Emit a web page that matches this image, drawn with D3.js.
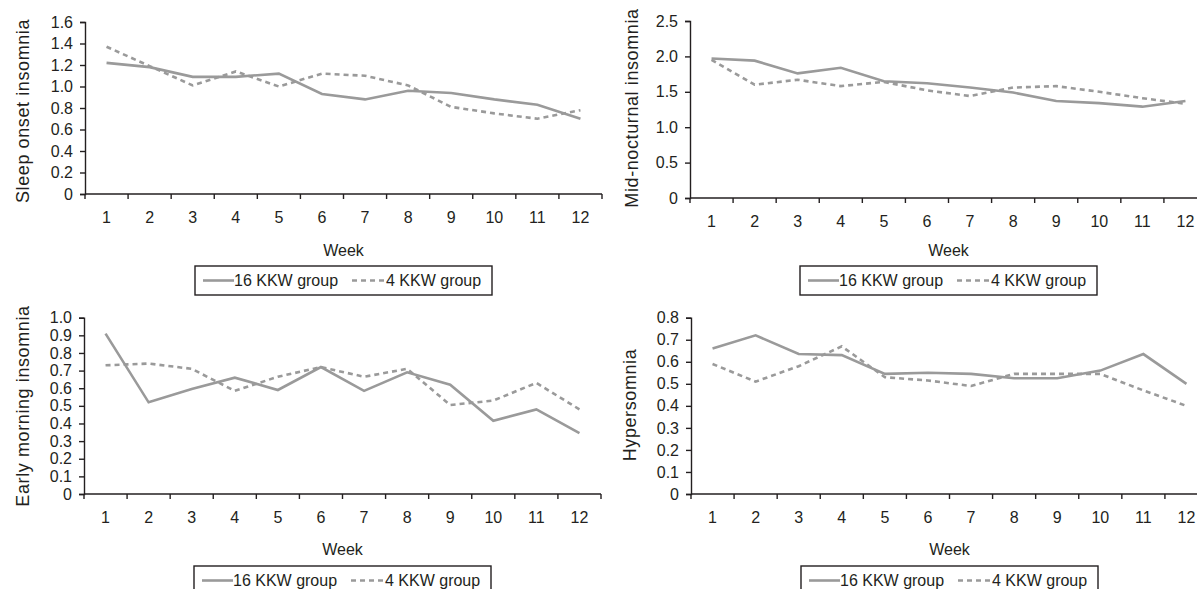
<!DOCTYPE html>
<html lang="en">
<meta charset="utf-8">
<style>
  body { margin: 0; background: #fff; }
  text { font-family: "Liberation Sans", Arial, sans-serif; fill: #231f20; }
</style>
<body>
<div id="my_dataviz"></div>

<script src="https://d3js.org/d3.v7.min.js"></script>
<script>

// weeks on the x axis
var weeks = [1, 2, 3, 4, 5, 6, 7, 8, 9, 10, 11, 12];
var seriesNames = ["16 KKW group", "4 KKW group"];

// Sleep onset insomnia
var sleepOnset16 = [1.22, 1.18, 1.09, 1.09, 1.12, 0.93, 0.88, 0.96, 0.94, 0.88, 0.83, 0.70];
var sleepOnset4  = [1.37, 1.19, 1.01, 1.14, 1.00, 1.12, 1.10, 1.01, 0.81, 0.75, 0.70, 0.78];

// Mid-nocturnal insomnia
var midNoct16 = [1.97, 1.94, 1.76, 1.84, 1.65, 1.62, 1.56, 1.49, 1.37, 1.34, 1.29, 1.37];
var midNoct4  = [1.95, 1.60, 1.67, 1.58, 1.64, 1.52, 1.44, 1.56, 1.58, 1.50, 1.41, 1.33];

// Early morning insomnia
var earlyMorning16 = [0.91, 0.52, 0.595, 0.66, 0.59, 0.72, 0.585, 0.69, 0.62, 0.415, 0.48, 0.345];
var earlyMorning4  = [0.73, 0.74, 0.71, 0.585, 0.665, 0.72, 0.665, 0.71, 0.505, 0.53, 0.63, 0.48];

// Hypersomnia
var hyper16 = [0.66, 0.72, 0.635, 0.63, 0.545, 0.55, 0.545, 0.525, 0.525, 0.56, 0.635, 0.50];
var hyper4  = [0.59, 0.51, 0.58, 0.67, 0.53, 0.515, 0.49, 0.545, 0.545, 0.545, 0.47, 0.40];

// y tick values per panel
var sleepOnsetTicks   = [0, 0.2, 0.4, 0.6, 0.8, 1.0, 1.2, 1.4, 1.6];
var midNoctTicks      = [0, 0.5, 1.0, 1.5, 2.0, 2.5];
var earlyMorningTicks = [0, 0.1, 0.2, 0.3, 0.4, 0.5, 0.6, 0.7, 0.8, 0.9, 1.0];
var hyperTicks        = [0, 0.1, 0.2, 0.3, 0.4, 0.5, 0.6, 0.7, 0.8];

var W = 1197, H = 589;
var lineColor = "#9a9a9a";
var axisColor = "#231f20";

var svg = d3.select("#my_dataviz")
  .append("svg")
  .attr("width", W)
  .attr("height", H);

var panels = [
  {label: "Sleep onset insomnia", s16: sleepOnset16, s4: sleepOnset4, ticks: sleepOnsetTicks,
   left: 85, top: 22, bottom: 194, ylab: 23, ylabY: 111, weekY: 250, legY: 266},
  {label: "Mid-nocturnal insomnia", s16: midNoct16, s4: midNoct4, ticks: midNoctTicks,
   left: 690, top: 21, bottom: 198, ylab: 632, ylabY: 108, weekY: 250, legY: 266},
  {label: "Early morning insomnia", s16: earlyMorning16, s4: earlyMorning4, ticks: earlyMorningTicks,
   left: 84, top: 317.7, bottom: 494, ylab: 23, ylabY: 406, weekY: 549, legY: 566},
  {label: "Hypersomnia", s16: hyper16, s4: hyper4, ticks: hyperTicks,
   left: 691, top: 317.7, bottom: 494, ylab: 630, ylabY: 405, weekY: 549, legY: 566}
];

var plotWidth = 517;

panels.forEach(function(p) {
  var g = svg.append("g");

  var x = d3.scaleBand()
    .domain(weeks)
    .range([p.left, p.left + plotWidth])
    .padding(0);

  var y = d3.scaleLinear()
    .domain([0, d3.max(p.ticks)])
    .range([p.bottom, p.top]);

  // y axis
  var yAxis = g.append("g")
    .attr("transform", "translate(" + p.left + ",0)")
    .call(d3.axisLeft(y)
      .tickValues(p.ticks)
      .tickSize(5)
      .tickPadding(7)
      .tickFormat(function(d) { return d === 0 ? "0" : d3.format(".1f")(d); }));
  yAxis.select(".domain").attr("stroke", axisColor).attr("stroke-width", 1.4);
  yAxis.selectAll(".tick line").attr("stroke", axisColor).attr("stroke-width", 1.4);
  yAxis.selectAll(".tick text")
    .style("font-size", "16px")
    .attr("fill", "#231f20");

  // x axis: labels centred in bands, ticks on band boundaries
  var xAxis = g.append("g")
    .attr("transform", "translate(0," + p.bottom + ")")
    .call(d3.axisBottom(x).tickSize(0).tickPadding(18));
  xAxis.select(".domain").remove();
  xAxis.selectAll(".tick text")
    .style("font-size", "16px")
    .attr("fill", "#231f20");

  g.append("line")
    .attr("x1", p.left).attr("x2", p.left + plotWidth)
    .attr("y1", p.bottom).attr("y2", p.bottom)
    .attr("stroke", axisColor).attr("stroke-width", 1.4);

  g.selectAll(".xtick")
    .data(weeks.concat([13]))
    .enter()
    .append("line")
    .attr("x1", function(d) { return d === 13 ? p.left + plotWidth : x(d); })
    .attr("x2", function(d) { return d === 13 ? p.left + plotWidth : x(d); })
    .attr("y1", p.bottom)
    .attr("y2", p.bottom + 5)
    .attr("stroke", axisColor).attr("stroke-width", 1.4);

  // axis titles
  g.append("text")
    .attr("transform", "translate(" + p.ylab + "," + p.ylabY + ") rotate(-90)")
    .attr("text-anchor", "middle")
    .attr("dy", "0.35em")
    .style("font-size", "18px")
    .style("letter-spacing", "0.6px")
    .text(p.label);

  g.append("text")
    .attr("x", p.left + plotWidth / 2)
    .attr("y", p.weekY)
    .attr("text-anchor", "middle")
    .attr("dy", "0.35em")
    .style("font-size", "16px")
    .text("Week");

  // lines
  var line = d3.line()
    .x(function(d, i) { return x(weeks[i]) + x.bandwidth() / 2; })
    .y(function(d) { return y(d); });

  g.append("path")
    .datum(p.s16)
    .attr("d", line)
    .attr("fill", "none")
    .attr("stroke", lineColor)
    .attr("stroke-width", 2.6);

  g.append("path")
    .datum(p.s4)
    .attr("d", line)
    .attr("fill", "none")
    .attr("stroke", lineColor)
    .attr("stroke-width", 2.6)
    .attr("stroke-dasharray", "5,4");

  // legend
  var cx = p.left + plotWidth / 2;
  var legW = 297, legH = 29;
  var lg = g.append("g").attr("transform", "translate(" + (cx - legW / 2) + "," + p.legY + ")");
  lg.append("rect")
    .attr("width", legW).attr("height", legH)
    .attr("fill", "#fff")
    .attr("stroke", axisColor).attr("stroke-width", 1.4);
  lg.append("line")
    .attr("x1", 8).attr("x2", 39).attr("y1", legH / 2).attr("y2", legH / 2)
    .attr("stroke", lineColor).attr("stroke-width", 2.6);
  lg.append("text")
    .attr("x", 39).attr("y", legH / 2).attr("dy", "0.35em")
    .style("font-size", "16px")
    .text(seriesNames[0]);
  lg.append("line")
    .attr("x1", 157).attr("x2", 191).attr("y1", legH / 2).attr("y2", legH / 2)
    .attr("stroke", lineColor).attr("stroke-width", 2.6)
    .attr("stroke-dasharray", "5,4");
  lg.append("text")
    .attr("x", 191).attr("y", legH / 2).attr("dy", "0.35em")
    .style("font-size", "16px")
    .text(seriesNames[1]);
});

</script>
</body>
</html>
